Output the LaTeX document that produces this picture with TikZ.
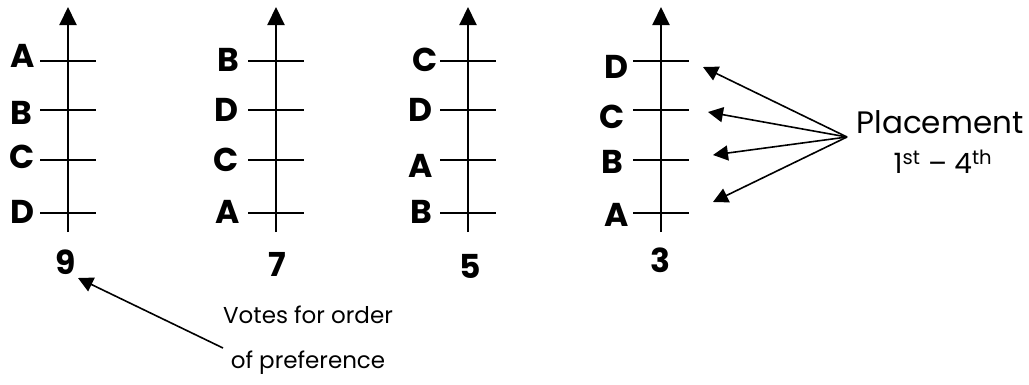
\documentclass[tikz,border=0pt]{standalone}
\usepackage{fontspec}
\setmainfont{Poppins}
\usetikzlibrary{arrows.meta}

\tikzset{
  axisline/.style={line width=2pt, -{Triangle[length=18pt,width=17pt]}},
  tickmark/.style={line width=2pt},
  pointer/.style={line width=1.6pt, -{Triangle[length=15pt,width=15pt]}},
  letter/.style={font=\bfseries\fontsize{33}{33}\selectfont, inner sep=0pt},
  count/.style={font=\bfseries\fontsize{33}{33}\selectfont, inner sep=0pt},
  note/.style={font=\fontsize{31}{31}\selectfont, inner sep=0pt},
  smallnote/.style={font=\fontsize{23}{45}\selectfont, inner sep=0pt, align=center}
}

% one ballot axis: #1 name, #2 x position
\newcommand{\ballotaxis}[2]{%
  \coordinate (#1b) at (#2,232);
  \coordinate (#1t) at (#2,7);
  \draw[axisline] (#1b) -- (#1t);
  \foreach \k/\y in {1/61,2/110,3/160,4/213}{
    \coordinate (#1k\k) at (#2,\y);
    \draw[tickmark] ([xshift=-28pt]#1k\k) -- ([xshift=28pt]#1k\k);
  }%
}

\begin{document}
\begin{tikzpicture}[x=1pt,y=-1pt]
  \useasboundingbox (0,0) rectangle (1029,384);

  \ballotaxis{p}{68}
  \ballotaxis{q}{276}
  \ballotaxis{r}{468}
  \ballotaxis{s}{661}

  % first ballot
  \node[letter] (pA) at (23,56) {A};
  \node[letter] (pB) at (21,113) {B};
  \node[letter] (pC) at (22,157) {C};
  \node[letter] (pD) at (22,212) {D};
  \node[count] (pn) at (66,262) {9};

  % second ballot
  \node[letter] (qB) at (228,60) {B};
  \node[letter] (qD) at (226,110) {D};
  \node[letter] (qC) at (226,160) {C};
  \node[letter] (qA) at (228,212) {A};
  \node[count] (qn) at (277,264) {7};

  % third ballot
  \node[letter] (rC) at (425,60) {C};
  \node[letter] (rD) at (420,110) {D};
  \node[letter] (rA) at (421,166) {A};
  \node[letter] (rB) at (421,212) {B};
  \node[count] (rn) at (470,266) {5};

  % fourth ballot
  \node[letter] (sD) at (616,67) {D};
  \node[letter] (sC) at (612,117) {C};
  \node[letter] (sB) at (612,162) {B};
  \node[letter] (sA) at (617,215) {A};
  \node[count] (sn) at (660,260) {3};

  % placement note with its pointers
  \node[note] (place) at (940,122) {Placement};
  \node[note, font=\fontsize{28}{28}\selectfont] (rank) at (943,162) {1\textsuperscript{st} – 4\textsuperscript{th}};
  \coordinate (fan) at (847,137);
  \coordinate (tD) at (703,67);
  \coordinate (tC) at (708,112);
  \coordinate (tB) at (713,155);
  \coordinate (tA) at (713,202);
  \foreach \t in {tD,tC,tB,tA}{ \draw[pointer] (fan) -- (\t); }

  % votes note
  \node[smallnote] (votes) at (308,340) {Votes for order\\of preference};
  \coordinate (vfrom) at (223,348);
  \coordinate (vto) at (78,278);
  \draw[pointer] (vfrom) -- (vto);
\end{tikzpicture}
\end{document}
